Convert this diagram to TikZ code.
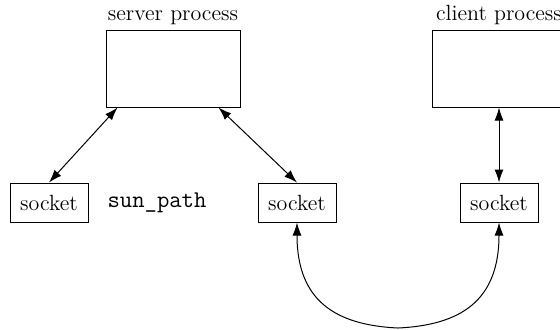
\documentclass[tikz,border=0pt]{standalone}
\usepackage{tikz}
\usetikzlibrary{positioning,arrows.meta,calc}

\begin{document}
\begin{tikzpicture}[x=0.5pt,y=-0.5pt, font=\fontsize{11}{13}\selectfont,
    proc/.style={draw,minimum width=67pt,minimum height=38.5pt,inner sep=0pt},
    sock/.style={draw,minimum width=39pt,minimum height=19.5pt,inner sep=0pt},
    lbl/.style={inner sep=1pt},
    <->,>={Latex[length=6.5pt,width=4.5pt]},line width=0.5pt]
  \useasboundingbox (0,0) rectangle (560,329);
  \node[proc] (srv) at (173,68.5) {};
  \node[lbl,above=1pt of srv] (srvlbl) {server process};
  \node[proc] (cli) at (499,68.5) {};
  \node[lbl,above=1pt of cli] (clilbl) {client process};
  \node[sock] (lsock) at (49,202.5) {socket};
  \node[sock] (msock) at (297,202.5) {socket};
  \node[sock] (csock) at (499,202.5) {socket};
  \node[lbl,font=\fontsize{12}{14}\ttfamily] (path) at (157,203) {sun\_path};
  \draw (lsock.north) -- ([xshift=6pt]srv.south west);
  \draw (msock.north) -- ([xshift=-11pt]srv.south east);
  \draw (csock.north) -- (cli.south);
  % loop between the two sockets
  \coordinate (bot) at ($(msock.south)!0.5!(csock.south)+(0,105.5)$);
  \draw (msock.south) .. controls ($(msock.south)+(0,78)$) and ($(bot)+(-63,-3)$) .. (bot)
        .. controls ($(bot)+(63,-3)$) and ($(csock.south)+(0,78)$) .. (csock.south);
\end{tikzpicture}
\end{document}
